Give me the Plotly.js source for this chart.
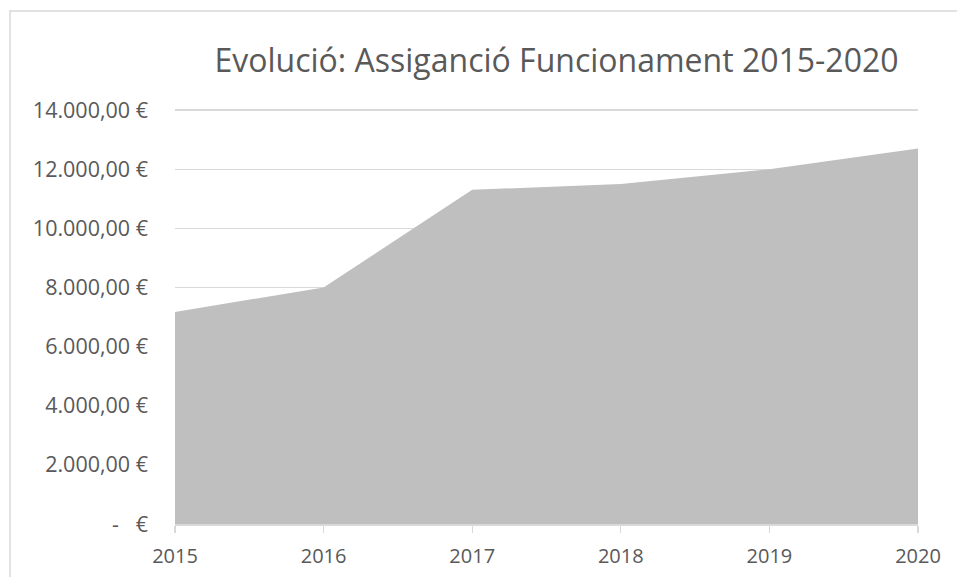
<!DOCTYPE html>
<html>
<head>
<meta charset="utf-8">
<script src="https://cdn.plot.ly/plotly-3.0.1.min.js"></script>
<style>html,body{margin:0;padding:0;background:#fff;}#chart{width:957px;height:577px;}</style>
</head>
<body>
<div id="chart"></div>
<script>
const years = ["2015", "2016", "2017", "2018", "2019", "2020"];
const assignacio = [7170, 8000, 11300, 11500, 12000, 12700];
const yTickVals = [0, 2000, 4000, 6000, 8000, 10000, 12000, 14000];
const yTickText = ["-\u00A0\u00A0\u00A0€", "2.000,00 €", "4.000,00 €", "6.000,00 €", "8.000,00 €", "10.000,00 €", "12.000,00 €", "14.000,00 €"];
const chartTitle = "Evolució: Assiganció Funcionament 2015-2020";

const W = 957, H = 577;
const L = 175, R = 39, T = 109, B = 53;
const pw = W - L - R, ph = H - T - B;
const px = x => (x - L) / pw;
const py = y => (H - B - y) / ph;

const trace = {
  x: years,
  y: assignacio,
  type: 'scatter',
  mode: 'lines',
  fill: 'tozeroy',
  fillcolor: '#BFBFBF',
  line: {width: 0, color: '#BFBFBF'},
  hoverinfo: 'x+y'
};

const layout = {
  width: W, height: H,
  margin: {l: L, r: R, t: T, b: B, pad: 0},
  paper_bgcolor: '#ffffff',
  plot_bgcolor: '#ffffff',
  showlegend: false,
  font: {family: 'Open Sans, sans-serif', color: '#595959'},
  title: {
    text: chartTitle,
    font: {family: 'Open Sans, sans-serif', size: 32, color: '#595959'},
    x: 556.5 / W, xanchor: 'center', xref: 'container',
    y: 1 - 61 / H, yanchor: 'middle', yref: 'container'
  },
  xaxis: {
    type: 'category',
    range: [0, 5],
    showgrid: false,
    showline: true,
    linecolor: '#D9D9D9',
    linewidth: 1.5,
    ticks: 'outside',
    ticklen: 7,
    tickwidth: 1.3,
    tickcolor: '#D9D9D9',
    ticklabelstandoff: 6,
    tickfont: {size: 20, color: '#595959'},
    zeroline: false,
    fixedrange: true
  },
  yaxis: {
    range: [0, 14035],
    tickvals: yTickVals,
    ticktext: yTickText,
    showgrid: true,
    gridcolor: '#D9D9D9',
    gridwidth: 1.3,
    zeroline: false,
    showline: false,
    ticks: '',
    ticklabelstandoff: 26,
    tickfont: {size: 21.5, color: '#595959'},
    fixedrange: true
  },
  shapes: [{
    type: 'rect', xref: 'paper', yref: 'paper',
    x0: px(10), x1: px(1200), y0: py(700), y1: py(11),
    line: {color: '#D9D9D9', width: 1.5},
    fillcolor: 'rgba(0,0,0,0)', layer: 'below'
  }]
};

Plotly.newPlot('chart', [trace], layout, {displayModeBar: false, staticPlot: true});
</script>
</body>
</html>
